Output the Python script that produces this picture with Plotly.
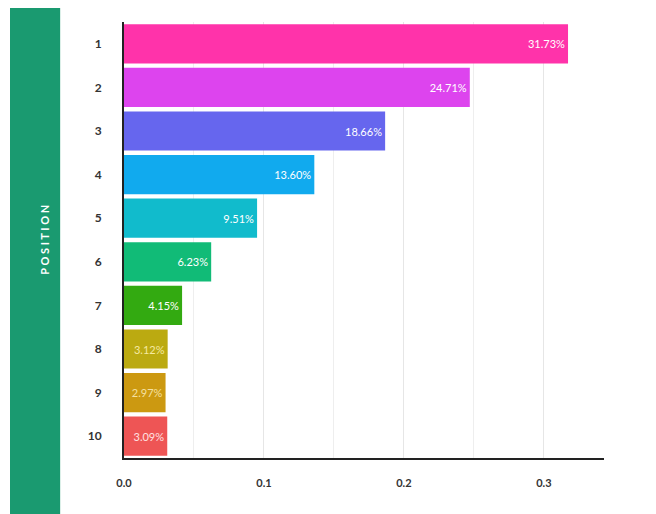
import plotly.graph_objects as go

positions = ["1", "2", "3", "4", "5", "6", "7", "8", "9", "10"]
shares = [0.3173, 0.2471, 0.1866, 0.1360, 0.0951, 0.0623, 0.0415, 0.0312, 0.0297, 0.0309]
labels = ["31.73%", "24.71%", "18.66%", "13.60%", "9.51%", "6.23%", "4.15%", "3.12%", "2.97%", "3.09%"]
colors = ["#FF33AA", "#DD44EE", "#6666EE", "#11AAEE", "#11BBCC",
          "#11BB77", "#33AA11", "#BBAA11", "#CC9911", "#EE5555"]
text_colors = ["white"] * 7 + ["#F5E9A0", "#F5E0A0", "#FFE0E0"]

fig = go.Figure(go.Bar(
    x=shares, y=positions, orientation="h",
    marker=dict(color=colors, line=dict(width=0)),
    text=labels, textposition="inside", insidetextanchor="end",
    textfont=dict(color=text_colors, size=11, family="Lato"),
    cliponaxis=False,
))

fig.update_layout(
    width=656, height=514,
    margin=dict(l=116, r=60, t=14, b=64),
    plot_bgcolor="white", paper_bgcolor="white",
    bargap=0.1, showlegend=False,
    font=dict(family="Lato", color="#333333"),
    xaxis=dict(range=[0, 0.343], tickvals=[0, 0.1, 0.2, 0.3],
               ticktext=["0.0", "0.1", "0.2", "0.3"],
               tickfont=dict(size=11, family="Lato", color="#333333", weight="bold"),
               showgrid=True, gridcolor="#E6E6E6",
               minor=dict(dtick=0.05, showgrid=True, gridcolor="#EEEEEE"),
               showline=True, linecolor="#222222", linewidth=2, zeroline=False,
               ticks="", ticklabelstandoff=14),
    yaxis=dict(autorange="reversed",
               tickfont=dict(size=12, family="Lato", color="#333333", weight="bold"),
               showline=True, linecolor="#222222", linewidth=2, showgrid=False,
               ticks="", ticklabelstandoff=18),
    shapes=[dict(type="rect", xref="paper", yref="paper",
                 x0=-0.2375, x1=-0.133, y0=-0.15, y1=1.04,
                 fillcolor="#1A9A70", line=dict(width=0), layer="below")],
    annotations=[dict(text="P O S I T I O N", xref="paper", yref="paper",
                      x=-0.185, y=0.5, textangle=-90, showarrow=False,
                      font=dict(color="white", size=11, family="Lato", weight="bold"))],
)

fig.write_html("out.html")
